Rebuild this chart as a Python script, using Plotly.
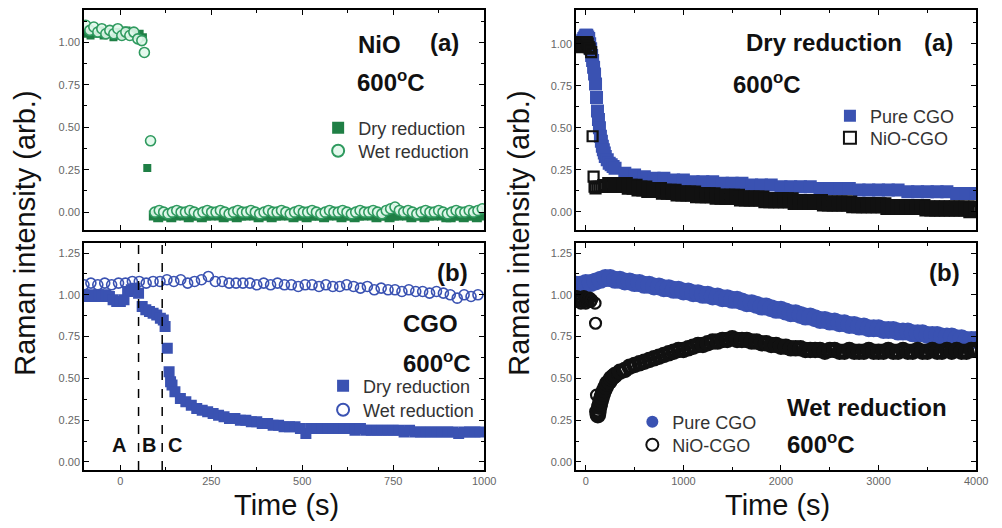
import plotly.graph_objects as go

W, H = 1002, 528
FONT = "Liberation Sans, Arial, sans-serif"

def seq(t0, step, vals):
    return [t0 + step * i for i in range(len(vals))]

# ---------------- DATA ----------------
# Top-left: NiO, 600 C
nio_dry_pre = [1.05, 1.07, 1.04, 1.06, 1.05, 1.07, 1.04, 1.06, 1.05, 1.03, 1.06, 1.04, 1.05, 1.07, 1.05, 1.06, 1.04, 1.05, 1.03]
nio_dry_mid_t = [74]
nio_dry_mid = [0.26]
nio_dry_post = [-0.02, -0.03, -0.02, -0.02, -0.03, -0.02, -0.01, -0.02, -0.03, -0.02,
                -0.02, -0.03, -0.02, -0.02, -0.01, -0.02, -0.03, -0.02, -0.02, -0.03,
                -0.02, -0.02, -0.01, -0.02, -0.03, -0.02, -0.02, -0.03, -0.02, -0.02,
                -0.01, -0.02, -0.03, -0.02, -0.02, -0.03, -0.02, -0.02, -0.02, -0.03,
                -0.02, -0.01, -0.02, -0.03, -0.02, -0.02, -0.03, -0.02, -0.02, -0.01,
                -0.02, -0.03, -0.02, -0.02, -0.03, -0.02, -0.02, -0.01, -0.02, -0.03,
                -0.02, -0.02, -0.03, -0.02, -0.02, -0.01, -0.02, -0.03, -0.03, -0.02,
                -0.02, -0.03, -0.02, -0.02, -0.03, -0.02]
nio_wet_pre = [1.10, 1.07, 1.09, 1.06, 1.08, 1.05, 1.07, 1.05, 1.08, 1.04, 1.06, 1.04, 1.06, 1.02, 1.01]
nio_wet_mid_t = [66, 83]
nio_wet_mid = [0.94, 0.42]
nio_wet_post = [0.00, 0.01, 0.00, -0.01, 0.00, 0.01, 0.00, 0.00, 0.01, 0.00,
                -0.01, 0.00, 0.01, 0.00, 0.00, 0.01, 0.00, -0.01, 0.00, 0.01,
                0.00, 0.00, 0.01, 0.00, -0.01, 0.00, 0.01, 0.00, 0.00, 0.01,
                0.00, -0.01, 0.00, 0.01, 0.00, 0.00, 0.01, 0.00, -0.01, 0.00,
                0.01, 0.00, 0.00, 0.01, 0.00, -0.01, 0.00, 0.01, 0.00, 0.00,
                0.01, 0.00, -0.01, 0.01, 0.02, 0.03, 0.01, 0.00, 0.01, 0.00,
                -0.01, 0.00, 0.01, 0.00, 0.00, 0.01, 0.00, -0.01, 0.00, 0.01,
                0.00, 0.00, 0.01, 0.00, 0.01, 0.02]

# Bottom-left: CGO, 600 C
cgo_dry_pre = [1.00, 0.99, 1.00, 0.99, 1.00, 0.99, 1.00, 0.99, 0.97, 0.96, 0.96,
               0.97, 1.02, 1.03, 1.04, 1.01, 0.93, 0.91, 0.90, 0.89, 0.88, 0.86]
cgo_dry_mid_t = [118, 123, 129, 134, 138, 142]
cgo_dry_mid = [0.85, 0.81, 0.68, 0.54, 0.48, 0.46]
cgo_dry_post = [0.42, 0.38, 0.36, 0.34, 0.32, 0.31, 0.30, 0.29, 0.28, 0.27,
                0.26, 0.26, 0.25, 0.25, 0.24, 0.24, 0.23, 0.23, 0.22, 0.22,
                0.21, 0.21, 0.21, 0.20, 0.17, 0.20, 0.20, 0.20, 0.20, 0.20,
                0.20, 0.20, 0.20, 0.19, 0.20, 0.19, 0.19, 0.19, 0.19, 0.19,
                0.19, 0.19, 0.18, 0.19, 0.18, 0.18, 0.18, 0.18, 0.18, 0.18,
                0.18, 0.18, 0.17, 0.18, 0.18, 0.18, 0.18]
cgo_wet = [1.06, 1.07, 1.06, 1.07, 1.06, 1.07,
           1.07, 1.08, 1.08, 1.07, 1.08, 1.08,
           1.09, 1.08, 1.09, 1.07, 1.08, 1.09,
           1.11, 1.08, 1.08, 1.07, 1.07, 1.07,
           1.07, 1.06, 1.07, 1.06, 1.07, 1.06,
           1.06, 1.05, 1.06, 1.06, 1.05, 1.06,
           1.05, 1.05, 1.06, 1.05, 1.04, 1.05,
           1.03, 1.04, 1.03, 1.03, 1.02, 1.03,
           1.02, 1.02, 1.01, 1.02, 1.01, 1.00,
           0.98, 1.00, 0.99, 1.00]
phase_bounds = [50, 115]
phase_labels = ["A", "B", "C"]
phase_label_t = [-5, 80, 150]

# Top-right: dry reduction, 600 C
pure_dry_early = [1.00, 1.00, 0.99, 1.00, 1.00, 1.01, 1.00, 1.02, 1.03, 1.04, 1.05, 1.05, 1.04, 1.03, 1.00, 0.97,
                  0.93, 0.90, 0.86, 0.82, 0.76, 0.68, 0.60, 0.55, 0.50, 0.45, 0.42, 0.39, 0.37, 0.35, 0.33]
pure_dry_mid_t = [220, 240, 260, 280, 300]
pure_dry_mid = [0.31, 0.29, 0.28, 0.27, 0.26]
pure_dry_late = [0.23, 0.22, 0.21, 0.20, 0.20, 0.19, 0.19, 0.18, 0.18, 0.18,
                 0.17, 0.17, 0.17, 0.16, 0.16, 0.16, 0.15, 0.15, 0.15, 0.15,
                 0.14, 0.14, 0.14, 0.14, 0.13, 0.13, 0.13, 0.13, 0.13, 0.12,
                 0.12, 0.12, 0.12, 0.12, 0.11, 0.11, 0.11]
nioc_dry_early = [1.00, 0.99, 1.01, 1.00, 0.98, 1.00, 1.01, 0.99, 1.00, 1.00, 0.99, 1.01, 1.00, 0.98, 0.97]
nioc_dry_mid_t = [55, 70, 80, 90, 100, 120, 140, 160, 180, 200]
nioc_dry_mid = [0.95, 0.45, 0.21, 0.15, 0.14, 0.15, 0.15, 0.15, 0.16, 0.16]
nioc_dry_late = [0.16, 0.16, 0.16, 0.16, 0.15, 0.15, 0.14, 0.14, 0.13, 0.13,
                 0.13, 0.12, 0.12, 0.12, 0.11, 0.11, 0.11, 0.11, 0.10, 0.10,
                 0.10, 0.10, 0.09, 0.09, 0.09, 0.09, 0.09, 0.08, 0.08, 0.08,
                 0.08, 0.08, 0.07, 0.07, 0.07, 0.07, 0.07, 0.07, 0.06, 0.06,
                 0.06, 0.06, 0.06, 0.06, 0.05, 0.05, 0.05, 0.05, 0.05, 0.05,
                 0.04, 0.04, 0.04, 0.04, 0.04, 0.04, 0.04, 0.03, 0.03, 0.03,
                 0.03, 0.03, 0.03, 0.03, 0.03, 0.02, 0.02, 0.02, 0.02, 0.02,
                 0.02, 0.02, 0.02, 0.02, 0.01, 0.02]

# Bottom-right: wet reduction, 600 C
pure_wet = [1.06, 1.06, 1.07, 1.07, 1.08, 1.09, 1.10, 1.10, 1.09, 1.09,
            1.08, 1.08, 1.07, 1.07, 1.06, 1.06, 1.05, 1.05, 1.04, 1.04,
            1.03, 1.03, 1.02, 1.02, 1.01, 1.01, 1.00, 1.00, 0.99, 0.99,
            0.98, 0.98, 0.97, 0.97, 0.96, 0.95, 0.95, 0.94, 0.93, 0.93,
            0.92, 0.91, 0.91, 0.90, 0.89, 0.89, 0.88, 0.87, 0.87, 0.86,
            0.85, 0.85, 0.84, 0.84, 0.83, 0.83, 0.82, 0.82, 0.81, 0.81,
            0.80, 0.80, 0.80, 0.79, 0.79, 0.79, 0.78, 0.78, 0.78, 0.77,
            0.77, 0.77, 0.76, 0.76, 0.76, 0.75, 0.75, 0.75, 0.74, 0.74,
            0.73, 0.73, 0.73]
nioc_wet_early = [0.97, 0.99, 0.96, 0.98, 0.97, 0.95, 0.98, 0.96, 0.99, 0.97, 0.95, 0.98, 0.96, 0.97, 0.98, 0.96, 0.97]
nioc_wet_mid_t = [95, 100, 110, 118, 124, 130, 138, 146, 155, 165, 175, 190, 205, 220, 240, 260, 280, 300]
nioc_wet_mid = [0.95, 0.83, 0.40, 0.30, 0.28, 0.30, 0.33, 0.35, 0.37, 0.39, 0.41, 0.43, 0.45, 0.47, 0.48, 0.50, 0.51, 0.52]
nioc_wet_late = [0.54, 0.55, 0.57, 0.58, 0.59, 0.60, 0.61, 0.62, 0.63, 0.64,
                 0.65, 0.66, 0.67, 0.67, 0.68, 0.69, 0.70, 0.70, 0.71, 0.72,
                 0.72, 0.73, 0.73, 0.74, 0.73, 0.73, 0.73, 0.72, 0.72, 0.71,
                 0.71, 0.70, 0.70, 0.69, 0.69, 0.68, 0.68, 0.68, 0.67, 0.67,
                 0.67, 0.67, 0.66, 0.67, 0.67, 0.66, 0.66, 0.67, 0.66, 0.66,
                 0.66, 0.67, 0.66, 0.66, 0.66, 0.67, 0.66, 0.66, 0.67, 0.66,
                 0.66, 0.67, 0.66, 0.66, 0.67, 0.66, 0.66, 0.67, 0.66, 0.67,
                 0.66, 0.66, 0.67, 0.67]

GREEN = "#1f7f45"
GREEN_C = "#2f9a5f"
BLUE = "#3a52b2"
BLACK = "#111111"

def px(x):
    return x / W

def py(y):
    return 1 - y / H

fig = go.Figure()

def add(x, y, xa, ya, name, legend, symbol, size, color, lw=0, fill=None, show=True, group=None):
    fig.add_trace(go.Scatter(
        x=x, y=y, xaxis=xa, yaxis=ya, mode="markers", name=name, legend=legend,
        legendgroup=group,
        marker=dict(symbol=symbol, size=size, color=fill if fill else color,
                    line=dict(color=color, width=lw)),
        showlegend=show))

# Top-left
add(seq(-100, 9, nio_dry_pre) + nio_dry_mid_t, nio_dry_pre + nio_dry_mid, "x", "y",
    "Dry reduction", "legend", "square", 8, GREEN, group="a")
add(seq(92, 12, nio_dry_post), nio_dry_post, "x", "y", "Dry reduction", "legend",
    "square", 10, GREEN, show=False, group="a")
add(seq(-95, 11, nio_wet_pre) + nio_wet_mid_t + seq(95, 12, nio_wet_post),
    nio_wet_pre + nio_wet_mid + nio_wet_post, "x", "y", "Wet reduction", "legend2",
    "circle", 10, GREEN_C, lw=1.6, fill="rgba(225,248,235,0.9)")
# Top-right
add(seq(-100, 10, pure_dry_early) + pure_dry_mid_t + seq(400, 100, pure_dry_late),
    pure_dry_early + pure_dry_mid + pure_dry_late, "x2", "y2", "Pure CGO", "legend5", "square", 13, BLUE)
add(seq(-100, 10, nioc_dry_early) + nioc_dry_mid_t, nioc_dry_early + nioc_dry_mid, "x2", "y2",
    "NiO-CGO", "legend6", "square-open", 10, BLACK, lw=2.2, group="b")
add(seq(250, 50, nioc_dry_late), nioc_dry_late, "x2", "y2", "NiO-CGO", "legend6",
    "square-open", 11, BLACK, lw=5, show=False, group="b")
# Bottom-left
add(seq(-100, 10, cgo_dry_pre) + cgo_dry_mid_t + seq(150, 15, cgo_dry_post),
    cgo_dry_pre + cgo_dry_mid + cgo_dry_post, "x3", "y3", "Dry reduction", "legend3", "square", 11, BLUE)
add(seq(-100, 19, cgo_wet), cgo_wet, "x3", "y3", "Wet reduction", "legend4", "circle-open", 10, BLUE, lw=1.6)
# Bottom-right
add(seq(-100, 50, pure_wet), pure_wet, "x4", "y4", "Pure CGO", "legend7", "circle", 18, BLUE)
add(seq(-100, 10, nioc_wet_early) + nioc_wet_mid_t[:3], nioc_wet_early + nioc_wet_mid[:3], "x4", "y4",
    "NiO-CGO", "legend8", "circle-open", 11, BLACK, lw=2.2, group="c")
add(nioc_wet_mid_t[3:] + seq(350, 50, nioc_wet_late), nioc_wet_mid[3:] + nioc_wet_late, "x4", "y4",
    "NiO-CGO", "legend8", "circle-open", 12, BLACK, lw=4.5, show=False, group="c")

legend_pos = {
    "legend": (362, 128), "legend2": (362, 151),
    "legend3": (367, 386), "legend4": (367, 410),
    "legend5": (880, 116), "legend6": (880, 138),
    "legend7": (680, 422), "legend8": (680, 445),
}
legend_layout = {}
for k, (tx, ty) in legend_pos.items():
    legend_layout[k] = dict(x=px(tx - 40), y=py(ty), xanchor="left", yanchor="middle",
                            bgcolor="rgba(0,0,0,0)", borderwidth=0,
                            font=dict(family=FONT, size=18, color="#333"),
                            itemwidth=30, itemsizing="constant")

LX = [px(85), px(490)]
RX = [px(583), px(988)]
TY = [py(230), py(10)]
BY = [py(470), py(243)]

def xax(dom, rng, dtick, minor, labels, anchor):
    return dict(domain=dom, range=rng, dtick=dtick, tick0=0, anchor=anchor,
                showline=True, linecolor="black", linewidth=1.5, mirror="ticks",
                ticks="inside", ticklen=5, tickwidth=1, tickcolor="black",
                minor=dict(ticks="inside", ticklen=3, dtick=minor, tick0=0, tickcolor="black"),
                showgrid=False, zeroline=False, showticklabels=labels,
                tickfont=dict(family=FONT, size=11, color="#666"))

def yax(dom, rng, anchor):
    return dict(domain=dom, range=rng, dtick=0.25, tick0=0, anchor=anchor, tickformat=".2f",
                showline=True, linecolor="black", linewidth=1.5, mirror="ticks",
                ticks="inside", ticklen=5, tickwidth=1, tickcolor="black",
                minor=dict(ticks="inside", ticklen=3, dtick=0.125, tick0=0, tickcolor="black"),
                showgrid=False, zeroline=False,
                tickfont=dict(family=FONT, size=11, color="#666"))

fig.update_layout(
    width=W, height=H, margin=dict(l=0, r=0, t=0, b=0),
    paper_bgcolor="white", plot_bgcolor="white",
    font=dict(family=FONT),
    xaxis=xax(LX, [-100, 1000], 250, 125, False, "y"),
    yaxis=yax(TY, [-0.105, 1.19], "x"),
    xaxis2=xax(RX, [-100, 4000], 1000, 500, False, "y2"),
    yaxis2=yax(TY, [-0.107, 1.2], "x2"),
    xaxis3=xax(LX, [-100, 1000], 250, 125, True, "y3"),
    yaxis3=yax(BY, [-0.048, 1.31], "x3"),
    xaxis4=xax(RX, [-100, 4000], 1000, 500, True, "y4"),
    yaxis4=yax(BY, [-0.048, 1.31], "x4"),
    **legend_layout,
)

for t in phase_bounds:
    fig.add_shape(type="line", xref="x3", yref="y3 domain", x0=t, x1=t, y0=0, y1=1,
                  line=dict(color="black", width=1.5, dash="dash"))

def ann(text, x, y, size=24, bold=True, xanchor="left", angle=0, color="#111"):
    fig.add_annotation(text=f"<b>{text}</b>" if bold else text, x=px(x), y=py(y),
                       xref="paper", yref="paper", xanchor=xanchor, yanchor="middle",
                       showarrow=False, textangle=angle,
                       font=dict(family=FONT, size=size, color=color))

ann("NiO", 360, 44)
ann("(a)", 433, 42)
ann("600<sup>o</sup>C", 359, 81)
ann("(b)", 440, 272)
ann("CGO", 406, 323)
ann("600<sup>o</sup>C", 406, 362)
ann("Dry reduction", 753, 43)
ann("(a)", 933, 43)
ann("600<sup>o</sup>C", 740, 83)
ann("(b)", 938, 272)
ann("Wet reduction", 795, 407)
ann("600<sup>o</sup>C", 795, 443)

for lab, t in zip(phase_labels, phase_label_t):
    fig.add_annotation(text=f"<b>{lab}</b>", x=t, y=0.10, xref="x3", yref="y3",
                       xanchor="center", yanchor="middle", showarrow=False,
                       font=dict(family=FONT, size=20, color="#111"))

ann("Raman intensity (arb.)", 25, 233, size=29, bold=False, xanchor="center", angle=-90)
ann("Raman intensity (arb.)", 525, 233, size=29, bold=False, xanchor="center", angle=-90)
ann("Time (s)", 290, 505, size=29, bold=False, xanchor="center")
ann("Time (s)", 787, 505, size=29, bold=False, xanchor="center")

fig.write_html("out.html")
